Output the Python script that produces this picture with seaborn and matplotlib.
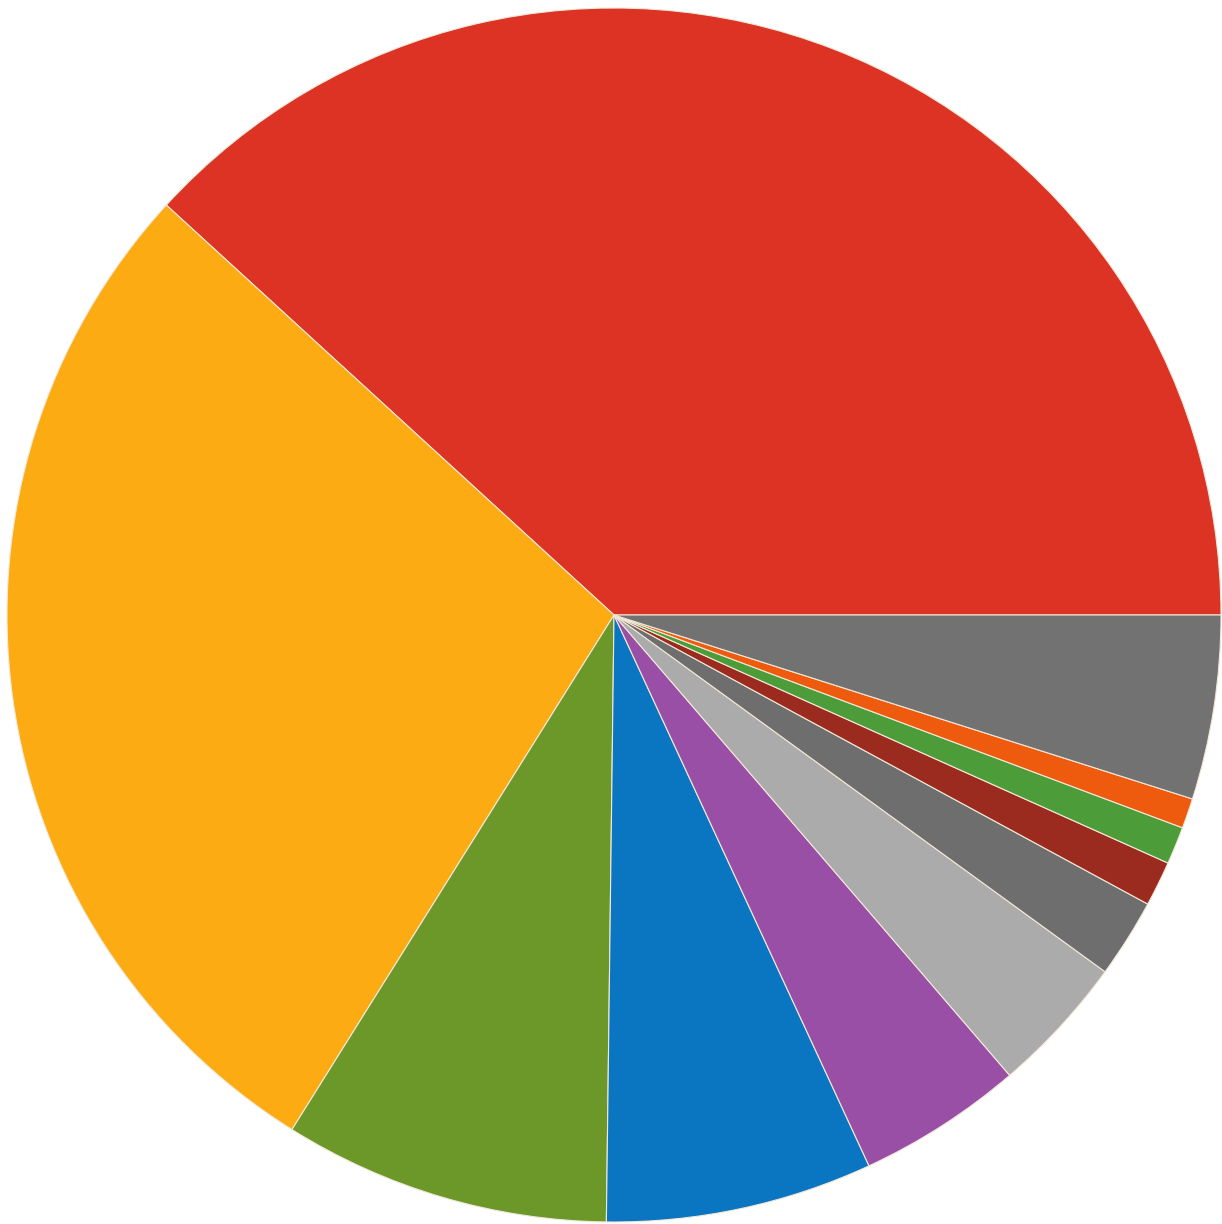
import matplotlib
matplotlib.use("Agg")
import matplotlib.pyplot as plt
import seaborn as sns

# slice shares (percent), counterclockwise from 3 o'clock
labels = ['red', 'orange', 'green', 'blue', 'purple', 'light gray',
          'dark gray', 'dark red', 'light green', 'light orange', 'gray']
shares = [38.2, 27.9, 8.7, 7.1, 4.4, 3.7, 2.1, 1.2, 1.0, 0.8, 4.9]
colors = ['#DC3324', '#FDAB12', '#6B9828', '#0A76C2', '#9A4FA6', '#ABABAB',
          '#6E6E6E', '#9C2B1F', '#4C9D3A', '#EE5A0E', '#727272']

sns.set_theme(style='white')
palette = sns.color_palette(colors)

fig = plt.figure(figsize=(12.22, 12.24), dpi=100)
fig.patch.set_facecolor('white')
# centre ~ (614, 615) px from top-left, radius ~607 px
cx, cy, r = 614, 615, 607
W, H = 1222, 1224
ax = fig.add_axes([(cx - r) / W, (H - cy - r) / H, 2 * r / W, 2 * r / H])
wedges, _ = ax.pie(shares, colors=palette, startangle=0, counterclock=True,
                   radius=1.0,
                   wedgeprops=dict(edgecolor='#F2E8D8', linewidth=0.8))
for w in wedges:
    w.set_clip_on(False)
ax.set_xlim(-1, 1)
ax.set_ylim(-1, 1)
ax.axis('off')

fig.savefig('out.png', dpi=100, facecolor='white')
